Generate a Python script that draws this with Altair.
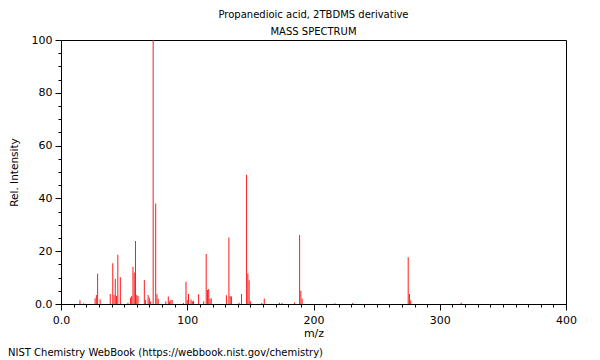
import altair as alt
import pandas as pd

# peaks (m/z, relative intensity)
mz = [15, 18, 27, 28, 29, 31, 39, 41, 42, 43, 44, 45, 47, 53, 55, 56, 57, 58, 59, 60,
      61, 66, 67, 69, 70, 71, 73, 75, 76, 77, 83, 85, 86, 87, 88, 97, 99, 100, 101, 103,
      104, 105, 109, 113, 115, 116, 117, 118, 119, 131, 133, 134, 135, 141, 143, 147, 148, 149, 150, 159,
      161, 173, 175, 185, 189, 190, 191, 217, 231, 275, 276, 277, 317]
intensity = [1.4, 0.3, 2.2, 3.4, 11.5, 1.8, 3.8, 15.4, 3.4, 9.5, 3.0, 18.7, 10.1, 0.5, 2.4, 3.0, 14.1, 11.9, 23.9, 3.4,
             3.0, 9.1, 1.5, 3.4, 2.4, 1.0, 100.0, 38.1, 3.7, 2.0, 1.0, 2.8, 0.9, 1.5, 1.5, 0.4, 8.4, 1.5, 3.8, 1.7,
             1.0, 1.2, 3.7, 1.0, 18.9, 5.3, 5.7, 2.0, 2.2, 3.3, 25.2, 3.0, 2.8, 0.5, 3.8, 49.0, 11.6, 9.0, 1.0, 0.4,
             2.1, 0.5, 0.4, 0.6, 26.1, 5.0, 2.0, 0.3, 0.4, 17.7, 3.8, 1.4, 0.5]

title_lines = ["Propanedioic acid, 2TBDMS derivative", "MASS SPECTRUM"]
footer_text = ["NIST Chemistry WebBook (https://webbook.nist.gov/chemistry)"]
x_tick_values = list(range(0, 401, 10))
y_tick_values = list(range(0, 101, 5))

df = pd.DataFrame({"mz": mz, "intensity": intensity})
foot = pd.DataFrame({"t": footer_text})

W, H = 505, 264
FONT = "DejaVu Sans"

x_scale = alt.Scale(domain=[0, 400], nice=False, zero=False, padding=0)
y_scale = alt.Scale(domain=[0, 100], nice=False)

x_axis = alt.Axis(
    values=x_tick_values,
    title="m/z",
    labelExpr="datum.value == 0 ? '0.0' : (datum.value % 100 == 0 ? datum.label : '')",
    labelOverlap=False,
    labelFlush=False,
    grid=False,
    tickSize={"condition": {"test": "datum.value % 100 === 0", "value": 6}, "value": 3},
    tickColor="black",
    domainColor="black",
    labelColor="black",
    labelFont=FONT,
    labelFontSize=11,
    labelPadding=4,
    titleFont=FONT,
    titleFontSize=11,
    titleFontWeight="normal",
    titleColor="black",
    titleX=W / 2,
    titleY=29,
    titleBaseline="middle",
)

y_axis = alt.Axis(
    values=y_tick_values,
    title="Rel. Intensity",
    labelExpr="datum.value == 0 ? '0.0' : (datum.value % 20 == 0 ? datum.label : '')",
    labelOverlap=False,
    labelFlush=False,
    grid=False,
    tickSize={"condition": {"test": "datum.value % 20 === 0", "value": 6}, "value": 3},
    tickColor="black",
    domainColor="black",
    labelColor="black",
    labelFont=FONT,
    labelFontSize=11,
    labelPadding=3,
    titleFont=FONT,
    titleFontSize=10.5,
    titleFontWeight="normal",
    titleColor="black",
    titleX=-47,
    titleY=H / 2,
    titleBaseline="middle",
)

peaks = alt.Chart(df).mark_bar(color="#ff1a1a", width=1, stroke=None).encode(
    x=alt.X("mz:Q", scale=x_scale, axis=x_axis),
    y=alt.Y("intensity:Q", scale=y_scale, axis=y_axis),
    y2=alt.datum(0),
)

footer = alt.Chart(foot).mark_text(
    align="left", baseline="middle", font=FONT, fontSize=10, color="black"
).encode(
    x=alt.value(-53),
    y=alt.value(313),
    text="t:N",
)

chart = alt.layer(peaks, footer).properties(
    width=W,
    height=H,
    title=alt.TitleParams(
        text=title_lines,
        font=FONT,
        fontSize=10,
        fontWeight="normal",
        color="black",
        anchor="middle",
        offset=-3,
        lineHeight=17,
    ),
    padding={"left": 53, "top": 32, "right": 26, "bottom": 56},
    autosize=alt.AutoSizeParams(type="none"),
).configure_view(stroke="black", strokeWidth=1)

chart.save("out.html", embed_options={"renderer": "svg", "actions": False})
